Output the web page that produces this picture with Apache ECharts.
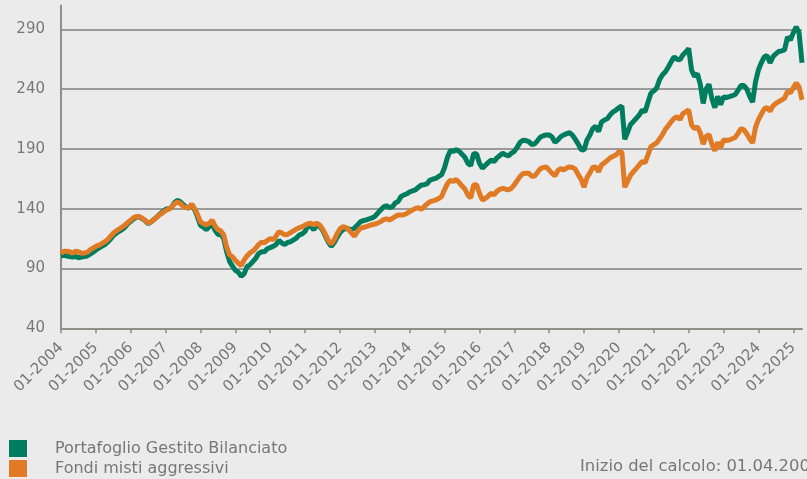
<!DOCTYPE html>
<html>
<head>
<meta charset="utf-8">
<script src="https://cdn.jsdelivr.net/npm/echarts@6/dist/echarts.min.js"></script>
<style>
  html, body { margin: 0; padding: 0; background: #ebebeb; }
  #chart { width: 807px; height: 479px; }
</style>
</head>
<body>
<div id="chart"></div>
<script>
// monthly values, first point 01-2004
var startYear = 2004;
var seriesNames = ['Portafoglio Gestito Bilanciato', 'Fondi misti aggressivi'];
var yTicks = [40, 90, 140, 190, 240, 290];
var footNote = 'Inizio del calcolo: 01.04.2004';

var gestito = [
  100.5, 101, 100.5, 100, 99.5, 100, 99, 99.5, 100, 100.5, 102, 103.5,
  105.5, 107, 108.5, 109.8, 112, 114.5, 117.5, 119.5, 121, 122.5, 124.5, 127.5,
  129.5, 131.5, 133, 133, 131.5, 130, 127.5, 129, 131, 133, 135.5, 137.5,
  139.5, 140, 141, 145, 147, 146, 143.5, 141.5, 140.5, 143, 139, 133,
  126, 124.5, 122.5, 125, 127.5, 122, 118.5, 118.5, 115, 104, 96, 92,
  88.5, 87, 83.5, 85.5, 91.5, 93, 95.7, 98.5, 102.5, 104, 104, 106.5,
  107.5, 108.5, 110, 113.5, 111.3, 110, 111.8, 112.4, 114, 115.5, 118, 119,
  121, 126, 125, 122.5, 126, 125.5, 122, 117, 112, 108.5, 111.5, 116,
  120, 122.5, 123.4, 123, 122.5, 123.8, 126.3, 129, 130, 130.6, 131.4, 132.3,
  133.5, 136.3, 139, 141.5, 142.5, 141, 141.5, 144.8, 146, 150.1, 151.5, 152.5,
  154, 155, 155.7, 158, 159.9, 160, 161, 164, 164.8, 165.4, 167, 168.5,
  174.5, 183, 188.8, 187.8, 189.5, 188, 185.5, 183, 178, 176, 186, 186,
  178, 173.8, 176.2, 178.5, 180.7, 179.3, 182.5, 184.5, 186.4, 185, 184.2, 186.4,
  188, 191.5, 195.5, 197.3, 197, 196.1, 193.7, 194.2, 197, 200, 201, 201.7,
  201.7, 200, 195.5, 197.5, 200.3, 201.7, 202.8, 203.5, 201.5, 198, 194, 189.5,
  189, 197.5, 201.5, 207, 209, 204.5, 212.5, 214.2, 215.2, 218.5, 221, 222.5,
  224.5, 226, 198, 204, 210.5, 213, 215.6, 218.4, 222.5, 221, 229, 236.5,
  238.5, 241, 248, 252, 254.5, 258.5, 263, 267, 265, 264.5, 268.5, 271,
  274, 256, 250.5, 253, 244, 228, 240, 244, 232, 224.5, 234, 227,
  233.5, 233, 233.7, 234.5, 235.5, 239, 243, 243, 240, 234, 229, 246,
  256, 262, 267, 268, 262, 267, 269.5, 271.5, 272, 272.8, 283.5, 281,
  287, 292, 287, 262
];

var fondi = [
  102.5, 104.5, 104.5, 104, 102.7, 104.5, 104, 102.7, 103, 103.5, 105.5, 107,
  108.5, 109.5, 110.8, 112.2, 114, 116.8, 119.5, 121.5, 123, 124.5, 126.3, 128.5,
  130.5, 132.5, 133.5, 133.4, 132, 130.2, 128, 129, 131, 133, 135, 136.5,
  138.5, 139.5, 141, 144, 145.5, 144.5, 142, 141, 140.5, 144, 140, 135,
  129, 127.5, 126.5, 127.8, 130.5, 125.5, 122.5, 121.5, 118, 108, 101.5, 99.8,
  97, 94.4, 92.5, 97, 100.5, 103, 104.5, 107, 110, 112, 111.5, 113.5,
  115, 114, 117, 120.8, 119.6, 118.2, 118.5, 120, 121.5, 123, 124, 125,
  126.3, 127.5, 127.8, 126.5, 127.8, 126.5, 123, 118.5, 113.5, 110.5, 114, 119,
  123, 125, 124.3, 122.5, 119.5, 117, 120.8, 123.5, 124.3, 125, 125.8, 126.6,
  127.2, 128, 129.2, 130.8, 131.6, 130.6, 131.8, 133.5, 134.8, 134.8, 135, 136,
  137.5, 139, 140.3, 140.8, 139.5, 141.7, 144, 145.9, 146.5, 147.3, 148.5, 150.3,
  156, 161, 163.8, 162.8, 164.5, 162, 159, 156.5, 151.5, 149, 159.8, 160,
  152.9, 147.3, 148.5, 150.5, 152.9, 151.5, 154.5, 156.2, 157.1, 156.3, 155.7, 157.1,
  160, 163.5, 167, 169.4, 169.6, 169.6, 167.2, 167.3, 170.5, 173.5, 174.5, 175,
  172.2, 169.5, 167.5, 172, 173.5, 172.4, 174, 175, 174.5, 173, 168.5, 164.5,
  158, 166, 170, 174.5, 175, 171, 176.6, 178.5, 180.3, 182.5, 183.8, 185,
  187.7, 187.5, 158, 163, 168, 171, 173.8, 176.6, 179.5, 178.5, 185, 192,
  193.5, 195, 198.5, 202, 206.5, 209.5, 212.8, 215.6, 217, 214.5, 219.5, 221,
  222.6, 210, 207, 208.5, 203.5, 194, 200.5, 202, 194, 188.5, 195.5, 191,
  197.5, 197, 197.5, 198.5, 199.5, 203, 207, 206, 202.5, 198.5, 195, 208,
  214.5, 219, 223.5, 224.5, 221.5, 226, 228, 229.5, 231, 232.4, 238, 237,
  241, 245, 242, 231
];

// month labels MM-YYYY
var months = [];
for (var i = 0; i < gestito.length; i++) {
  var m = i % 12 + 1;
  months.push((m < 10 ? '0' + m : '' + m) + '-' + (startYear + Math.floor(i / 12)));
}

var green = '#007d5e';
var orange = '#e07a24';
var grey = '#777777';

var myChart = echarts.init(document.getElementById('chart'), null, { renderer: 'canvas' });

myChart.setOption({
  backgroundColor: '#ebebeb',
  animation: false,
  textStyle: { fontFamily: 'DejaVu Sans' },
  grid: { left: 61, right: 5, top: 5.4, bottom: 150.7, containLabel: false, outerBoundsMode: 'none' },
  legend: {
    orient: 'vertical',
    left: 9,
    top: 440,
    padding: 0,
    itemWidth: 18,
    itemHeight: 17,
    itemGap: 3,
    icon: 'rect',
    selectedMode: false,
    textStyle: { color: grey, fontSize: 16, fontFamily: 'DejaVu Sans', padding: [0, 0, 0, 23] },
    data: seriesNames
  },
  graphic: [{
    type: 'text',
    left: 580,
    top: 459,
    style: { text: footNote, fill: grey, font: '16.4px "DejaVu Sans"' }
  }],
  xAxis: {
    type: 'category',
    data: months,
    boundaryGap: false,
    axisLine: { lineStyle: { color: '#8f8f86', width: 2 } },
    axisTick: { interval: 11, length: 5, lineStyle: { color: '#8f8f86', width: 1.5 } },
    axisLabel: { interval: 11, rotate: 45, color: grey, fontSize: 15, margin: 17 },
    splitLine: { show: false }
  },
  yAxis: {
    type: 'value',
    min: yTicks[0],
    max: 310,
    interval: 50,
    axisLine: { show: true, lineStyle: { color: '#8f8f86', width: 2 } },
    axisTick: { show: false },
    axisLabel: { color: grey, fontSize: 15, margin: 16, showMaxLabel: false },
    splitLine: { show: true, showMinLine: false, showMaxLine: false, lineStyle: { color: '#9a9a9a', width: 2 } }
  },
  series: [
    {
      name: seriesNames[0],
      type: 'line',
      data: gestito,
      showSymbol: false,
      clip: false,
      lineStyle: { color: green, width: 5 },
      itemStyle: { color: green }
    },
    {
      name: seriesNames[1],
      type: 'line',
      data: fondi,
      showSymbol: false,
      clip: false,
      lineStyle: { color: orange, width: 5 },
      itemStyle: { color: orange }
    }
  ]
});
</script>
</body>
</html>
